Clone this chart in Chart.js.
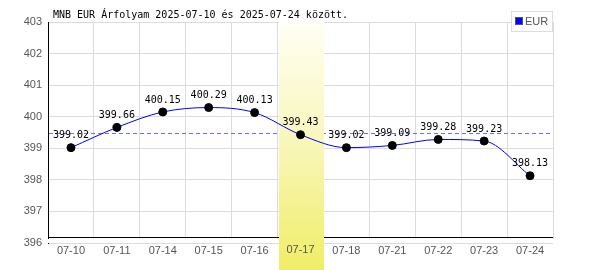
<!DOCTYPE html>
<html>
<head>
<meta charset="utf-8">
<script src="https://cdn.jsdelivr.net/npm/chart.js@4/dist/chart.umd.min.js"></script>
<style>
html,body{margin:0;padding:0;background:#fff;}
#wrap{width:600px;height:270px;position:relative;}
</style>
</head>
<body>
<div id="wrap"><canvas id="c" width="600" height="270"></canvas></div>
<script>
const titleText = "MNB EUR Árfolyam 2025-07-10 és 2025-07-24 között.";
const seriesName = "EUR";
const categories = ["07-10","07-11","07-14","07-15","07-16","07-17","07-18","07-21","07-22","07-23","07-24"];
const eurValues = [399.02,399.66,400.15,400.29,400.13,399.43,399.02,399.09,399.28,399.23,398.13];
const yTicks = [396,397,398,399,400,401,402,403];
const highlightCategory = "07-17";
const avgValue = eurValues.reduce((a,b)=>a+b,0)/eurValues.length;

const MONO = '"DejaVu Sans Mono", monospace';
const SANS = '"Liberation Sans", Arial, sans-serif';

const decor = {
  id: 'decor',
  beforeDatasetsDraw(chart) {
    const ctx = chart.ctx, a = chart.chartArea;
    const x = chart.scales.x, y = chart.scales.y;
    ctx.save();
    // gap above bottom grid line and black baseline
    ctx.fillStyle = '#fff';
    ctx.fillRect(a.left - 1, a.bottom - 4, a.right - a.left + 2, 4);
    ctx.strokeStyle = '#000';
    ctx.lineWidth = 1;
    ctx.beginPath();
    ctx.moveTo(a.left, a.bottom - 5.5);
    ctx.lineTo(a.right, a.bottom - 5.5);
    ctx.stroke();
    // average dashed line
    const ay = Math.floor(y.getPixelForValue(avgValue)) - 1.5;
    ctx.strokeStyle = 'rgb(110,110,255)';
    ctx.lineWidth = 1;
    ctx.setLineDash([4, 3]);
    ctx.beginPath();
    ctx.moveTo(a.left + 1, ay);
    ctx.lineTo(a.right, ay);
    ctx.stroke();
    ctx.setLineDash([]);
    // highlight band
    const idx = categories.indexOf(highlightCategory);
    const cx = x.getPixelForValue(idx);
    const half = (x.getPixelForValue(1) - x.getPixelForValue(0)) / 2;
    const g = ctx.createLinearGradient(0, a.top, 0, chart.height);
    g.addColorStop(0, '#fffff4');
    g.addColorStop(0.5, '#f8f6b8');
    g.addColorStop(1, '#f0ee66');
    ctx.fillStyle = g;
    ctx.fillRect(Math.round(cx - half) + 1, a.top, Math.round(2 * half) - 1, chart.height - a.top);
    // redraw the highlighted tick label
    ctx.fillStyle = '#555';
    ctx.font = '11px ' + SANS;
    ctx.textAlign = 'center';
    ctx.textBaseline = 'middle';
    ctx.fillText(highlightCategory, cx, a.bottom + 7);
    ctx.restore();
  },
  afterDraw(chart) {
    const ctx = chart.ctx, a = chart.chartArea;
    const meta = chart.getDatasetMeta(0);
    ctx.save();
    // value labels
    ctx.fillStyle = '#000';
    ctx.font = '10px ' + MONO;
    ctx.textAlign = 'center';
    ctx.textBaseline = 'middle';
    meta.data.forEach((pt, i) => {
      ctx.fillText(eurValues[i].toFixed(2), pt.x, pt.y - 12);
    });
    // title
    ctx.textAlign = 'left';
    ctx.textBaseline = 'alphabetic';
    ctx.fillText(titleText, 53, 18);
    // legend
    ctx.fillStyle = '#fff';
    ctx.fillRect(511.5, 11.5, 41, 20);
    ctx.strokeStyle = '#ddd';
    ctx.lineWidth = 1;
    ctx.strokeRect(511.5, 11.5, 41, 20);
    ctx.fillStyle = '#0000ff';
    ctx.fillRect(515.5, 17.5, 7, 7);
    ctx.strokeStyle = '#555';
    ctx.strokeRect(515.5, 17.5, 7, 7);
    ctx.fillStyle = '#555';
    ctx.font = '11px ' + SANS;
    ctx.textBaseline = 'middle';
    ctx.fillText(seriesName, 525, 21.5);
    ctx.restore();
  }
};

new Chart(document.getElementById('c'), {
  type: 'line',
  data: {
    labels: categories,
    datasets: [{
      label: seriesName,
      data: eurValues,
      borderColor: '#0000ff',
      borderWidth: 1,
      cubicInterpolationMode: 'monotone',
      pointRadius: 4,
      pointBackgroundColor: '#000',
      pointBorderColor: '#000',
      pointBorderWidth: 1,
      fill: false
    }]
  },
  options: {
    responsive: false,
    animation: false,
    devicePixelRatio: 1,
    layout: { padding: { left: 0, right: 47, top: 22, bottom: 0 } },
    plugins: { legend: { display: false }, tooltip: { enabled: false }, title: { display: false } },
    scales: {
      x: {
        type: 'category',
        offset: true,
        grid: { offset: true, color: '#dcdcdc', drawTicks: false, lineWidth: 1 },
        border: { display: false },
        ticks: {
          color: '#555', font: { family: SANS, size: 11 }, padding: 1,
          maxRotation: 0, autoSkip: false
        },
        afterFit(s) { s.height = 27; }
      },
      y: {
        min: 396, max: 403,
        afterBuildTicks(s) { s.ticks = yTicks.map(v => ({ value: v })); },
        grid: { color: '#dcdcdc', drawTicks: false },
        border: { display: true, color: '#000', width: 1 },
        ticks: { color: '#555', font: { family: SANS, size: 11 }, padding: 6 },
        afterFit(s) { s.width = 48; }
      }
    }
  },
  plugins: [decor]
});
</script>
</body>
</html>
